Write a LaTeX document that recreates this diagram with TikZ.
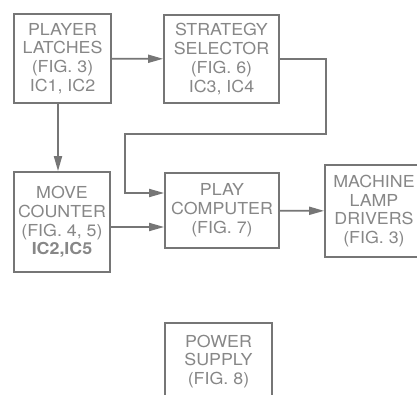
\documentclass[tikz,border=0pt]{standalone}
\usepackage{fontspec}
\setmainfont{TeX Gyre Heros}[FakeStretch=1.08]
\usetikzlibrary{arrows.meta}
\definecolor{inkgray}{RGB}{118, 118, 118}
\definecolor{textgray}{RGB}{135, 135, 135}

\begin{document}
\begin{tikzpicture}[x=1pt, y=-1pt,
        block/.style={rectangle, draw=inkgray, line width=1.8pt, fill=white, text=textgray, align=center, inner sep=0pt,
            font=\fontsize{16.5}{18.8}\selectfont},
        arr/.style={-{Triangle[length=15pt, width=8pt]}, draw=inkgray, line width=1.8pt}
    ]
        \clip (0,0) rectangle (417,395);
        \fill[white] (0,0) rectangle (417,395);

        % Blocs du haut
        \node[block, minimum width=97pt, minimum height=89pt] (latch) at (62.5,58.5) {PLAYER\\LATCHES\\(FIG. 3)\\IC1, IC2};
        \node[block, minimum width=115pt, minimum height=88pt] (strat) at (221.5,59) {STRATEGY\\SELECTOR\\(FIG. 6)\\IC3, IC4};

        % Blocs du milieu
        \node[block, minimum width=96pt, minimum height=100pt] (count) at (62,222) {MOVE\\COUNTER\\(FIG. 4, 5)\\\textbf{IC2,IC5}};
        \node[block, minimum width=114pt, minimum height=75pt] (play) at (222,210.5) {PLAY\\COMPUTER\\(FIG. 7)};
        \node[block, minimum width=98pt, minimum height=92pt] (lamp) at (374,211) {MACHINE\\LAMP\\DRIVERS\\(FIG. 3)};

        % Alimentation
        \node[block, minimum width=107pt, minimum height=77pt] (power) at (218.5,361.5) {POWER\\SUPPLY\\(FIG. 8)};

        % Liaisons
        \coordinate (loopr) at (326,134);
        \coordinate (loopl) at (125,134);
        \draw[arr] (latch) -- (strat);
        \draw[arr] ([xshift=-4.5pt]latch.south) -- ([xshift=-4pt]count.north);
        \draw[arr] (strat.east) -| (loopr) -- (loopl) |- ([yshift=17.5pt]play.west);
        \draw[arr] ([yshift=-5pt]count.east) -- ([yshift=-16.5pt]play.west);
        \draw[arr] (play) -- (lamp);
    \end{tikzpicture}
\end{document}
